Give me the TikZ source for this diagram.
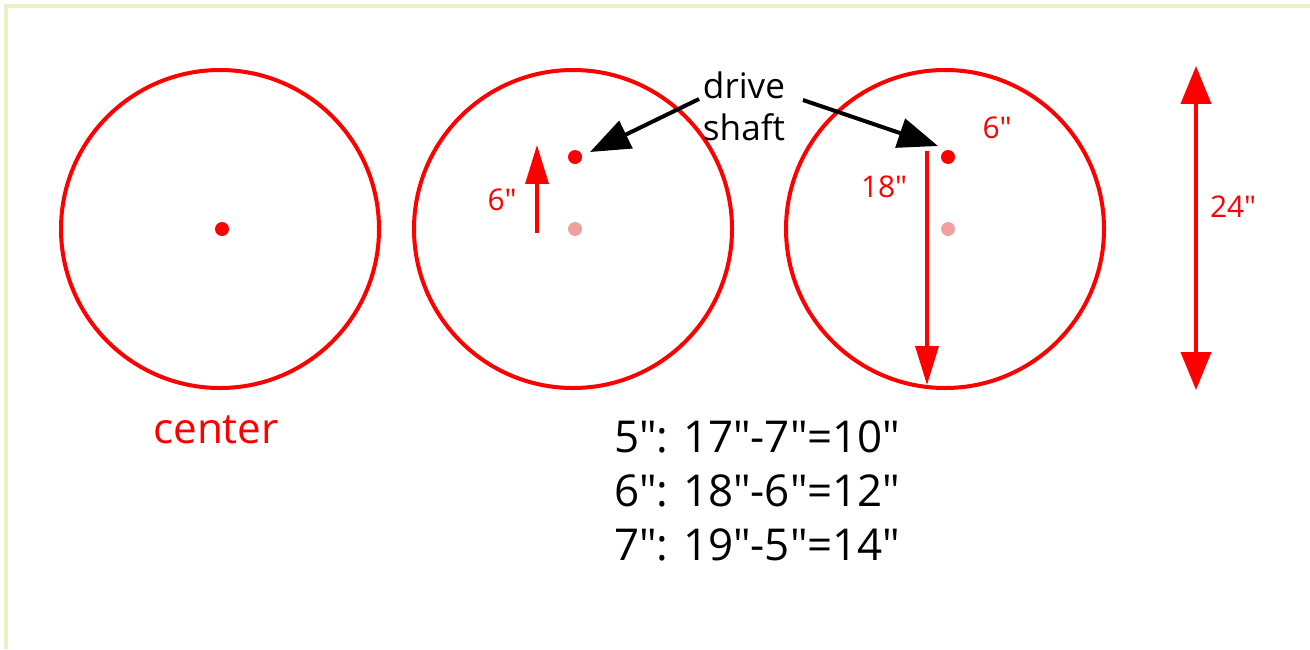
\documentclass[tikz,border=0pt]{standalone}
\usepackage{fontspec}
\setmainfont{Open Sans}
\usetikzlibrary{
  arrows.meta,              % Triangle arrow tips
  positioning               % relative placement
}
\definecolor{wheelred}{RGB}{255,0,0}
\definecolor{palered}{RGB}{240,160,160}
\definecolor{frameline}{RGB}{236,239,196}
\newcommand{\inch}{″}

\begin{document}
\begin{tikzpicture}[x=0.02cm, y=-0.02cm, line width=0.08cm,
  wheel/.style={draw=wheelred, line width=0.08cm},
  shaftdot/.style={circle, fill=wheelred, inner sep=0pt, minimum size=0.28cm},
  oldshaft/.style={circle, fill=palered, inner sep=0pt, minimum size=0.28cm},
  redarrow/.style={wheelred, -{Triangle[length=0.78cm, width=0.46cm]}},
  dimlabel/.style={text=wheelred, font=\fontsize{17}{20}\selectfont, inner sep=1pt},
  pointer/.style={black, -{Triangle[length=0.8cm, width=0.6cm]}}]

  % page and frame
  \useasboundingbox (0,0) rectangle (1310,649);
  \draw[frameline, line width=0.08cm] (6,649) -- (6,6) -- (1310,6);

  % =========== first wheel: shaft at the center ===========
  \draw[wheel] (220,229) circle[radius=159];
  \node[shaftdot] (c1) at (222,229) {};
  \node[text=wheelred, font=\fontsize{24}{28}\selectfont] (lbl1) at (216,430) {center};

  % =========== second wheel: shaft moved up 6 inch ===========
  \draw[wheel] (573,229) circle[radius=159];
  \node[shaftdot] (s2) at (575,157) {};
  \node[oldshaft] (o2) at (575,229) {};
  \coordinate (up0) at (537,233);
  \coordinate (up1) at (537,145);
  \draw[redarrow, line width=0.07cm] (up0) -- (up1);
  \node[dimlabel] (d2) at (502,200) {6\inch};

  % =========== third wheel: distance to the rim ===========
  \draw[wheel] (945,229) circle[radius=159];
  \node[shaftdot] (s3) at (948,157) {};
  \node[oldshaft] (o3) at (948,229) {};
  \coordinate (rim0) at (927,151);
  \coordinate (rim1) at (927,385);
  \draw[redarrow, line width=0.07cm] (rim0) -- (rim1);
  \node[dimlabel] (d3) at (884,187) {18\inch};
  \node[dimlabel] (d4) at (997,128) {6\inch};

  % =========== wheel diameter ===========
  \coordinate (dia0) at (1196,66);
  \coordinate (dia1) at (1196,390);
  \draw[wheelred, line width=0.08cm,
        {Triangle[length=0.76cm, width=0.6cm]}-{Triangle[length=0.76cm, width=0.6cm]}]
        (dia0) -- (dia1);
  \node[dimlabel] (d5) at (1233,207) {24\inch};

  % =========== drive shaft pointers ===========
  \node[align=center, font=\fontsize{20}{24}\selectfont] (ds) at (744,106) {drive\\shaft};
  \coordinate (tipL) at (590,152);
  \coordinate (tipR) at (938,146);
  \draw[pointer] (ds.west) ++(4,-7) -- (tipL);
  \draw[pointer] (ds.east) ++(10,-6) -- (tipR);

  % =========== offsets ===========
  \node[align=center, font=\fontsize{25}{30.6}\selectfont] (calc) at (757,491)
    {5\inch: 17\inch-7\inch=10\inch\\6\inch: 18\inch-6\inch=12\inch\\7\inch: 19\inch-5\inch=14\inch};

\end{tikzpicture}
\end{document}
